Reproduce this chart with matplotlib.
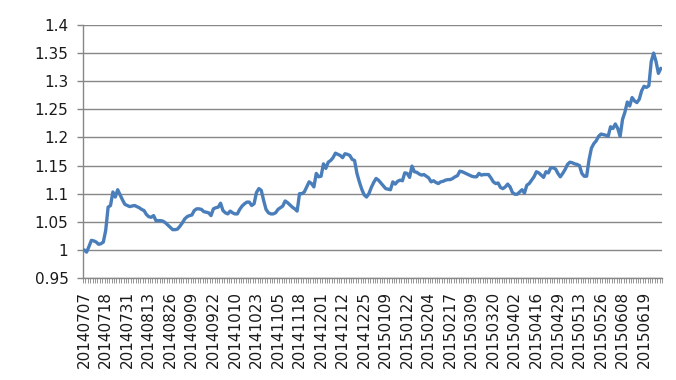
import matplotlib
matplotlib.use("Agg")
import matplotlib.pyplot as plt
from matplotlib.ticker import FixedLocator, FuncFormatter

# ── Data ─────────────────────────────────────────────────────────────────────
# one value per trading day, 20140707 .. end of June 2015
values = [
    1.000, 0.996, 1.006, 1.017, 1.016, 1.014, 1.010, 1.011, 1.014, 1.035,
    1.076, 1.079, 1.103, 1.094, 1.107, 1.098, 1.089, 1.081, 1.079, 1.077,
    1.078, 1.079, 1.077, 1.075, 1.072, 1.070, 1.063, 1.059, 1.058, 1.061,
    1.052, 1.052, 1.052, 1.051, 1.048, 1.044, 1.040, 1.036, 1.036, 1.037,
    1.042, 1.048, 1.055, 1.059, 1.061, 1.062, 1.070, 1.073, 1.073, 1.072,
    1.068, 1.067, 1.066, 1.061, 1.073, 1.075, 1.076, 1.083, 1.070, 1.066,
    1.064, 1.069, 1.066, 1.064, 1.064, 1.072, 1.078, 1.082, 1.085, 1.085,
    1.079, 1.082, 1.102, 1.109, 1.106, 1.088, 1.072, 1.066, 1.064, 1.064,
    1.066, 1.072, 1.075, 1.078, 1.087, 1.084, 1.080, 1.076, 1.073, 1.069,
    1.100, 1.100, 1.103, 1.112, 1.121, 1.118, 1.112, 1.136, 1.130, 1.131,
    1.153, 1.145, 1.156, 1.159, 1.164, 1.172, 1.170, 1.168, 1.164, 1.171,
    1.170, 1.168, 1.161, 1.159, 1.136, 1.121, 1.108, 1.098, 1.094, 1.100,
    1.111, 1.120, 1.127, 1.124, 1.119, 1.114, 1.109, 1.108, 1.107, 1.121,
    1.117, 1.122, 1.124, 1.123, 1.137, 1.136, 1.129, 1.149, 1.139, 1.138,
    1.135, 1.133, 1.134, 1.131, 1.128, 1.121, 1.123, 1.120, 1.118, 1.121,
    1.122, 1.124, 1.125, 1.125, 1.127, 1.130, 1.132, 1.140, 1.139, 1.137,
    1.135, 1.133, 1.131, 1.130, 1.130, 1.136, 1.133, 1.134, 1.134, 1.134,
    1.128, 1.121, 1.118, 1.119, 1.111, 1.109, 1.112, 1.117, 1.112, 1.102,
    1.099, 1.099, 1.103, 1.107, 1.101, 1.115, 1.118, 1.124, 1.130, 1.139,
    1.137, 1.133, 1.129, 1.139, 1.137, 1.146, 1.146, 1.144, 1.136, 1.130,
    1.136, 1.143, 1.152, 1.156, 1.155, 1.153, 1.152, 1.150, 1.136, 1.131,
    1.131, 1.160, 1.181, 1.189, 1.194, 1.202, 1.206, 1.205, 1.204, 1.202,
    1.219, 1.216, 1.224, 1.216, 1.202, 1.232, 1.245, 1.263, 1.256, 1.271,
    1.265, 1.262, 1.268, 1.283, 1.291, 1.289, 1.292, 1.335, 1.350, 1.335,
    1.314, 1.323,
]

# every 9th trading day is labelled on the category axis
tick_labels = [
    "20140707", "20140718", "20140731", "20140813", "20140826", "20140909",
    "20140922", "20141010", "20141023", "20141105", "20141118", "20141201",
    "20141212", "20141225", "20150109", "20150122", "20150204", "20150217",
    "20150309", "20150320", "20150402", "20150416", "20150429", "20150513",
    "20150526", "20150608", "20150619",
]
LABEL_STEP = 9

y_ticks = [0.95, 1.0, 1.05, 1.1, 1.15, 1.2, 1.25, 1.3, 1.35, 1.4]

# ── Style ────────────────────────────────────────────────────────────────────
LINE_COLOR = "#4a7ebb"
GRID_COLOR = "#878787"
TEXT_COLOR = "#1a1a1a"

fig = plt.figure(figsize=(6.76, 3.80), dpi=100)
ax = fig.add_axes([83 / 676, 1 - 278 / 380, (662 - 83) / 676, (278 - 25) / 380])

x = list(range(len(values)))
ax.plot(x, values, color=LINE_COLOR, linewidth=2.4, solid_joinstyle="round",
        solid_capstyle="round", zorder=3)

# ── Axes ─────────────────────────────────────────────────────────────────────
ax.set_xlim(-0.5, len(values) - 0.5)
ax.set_ylim(0.95, 1.4)

ax.yaxis.set_major_locator(FixedLocator(y_ticks))
ax.yaxis.set_major_formatter(FuncFormatter(lambda v, _: f"{v:g}"))
ax.grid(axis="y", color=GRID_COLOR, linewidth=1.0, zorder=0)
ax.set_axisbelow(True)

ax.set_xticks([i * LABEL_STEP for i in range(len(tick_labels))])
ax.set_xticklabels(tick_labels, rotation=90)
# small tick marks between every category, like the spreadsheet axis
ax.set_xticks([i - 0.5 for i in range(len(values) + 1)], minor=True)

ax.tick_params(axis="x", which="major", length=0, pad=9,
               labelsize=11, labelcolor=TEXT_COLOR)
ax.tick_params(axis="x", which="minor", length=3.5, width=0.6,
               color=GRID_COLOR, direction="out")
ax.tick_params(axis="y", length=4.5, width=1.0, color=GRID_COLOR, pad=6,
               labelsize=11, labelcolor=TEXT_COLOR)

for side in ("top", "right"):
    ax.spines[side].set_visible(False)
for side in ("left", "bottom"):
    ax.spines[side].set_color(GRID_COLOR)
    ax.spines[side].set_linewidth(1.0)

fig.savefig("out.png", dpi=100)
